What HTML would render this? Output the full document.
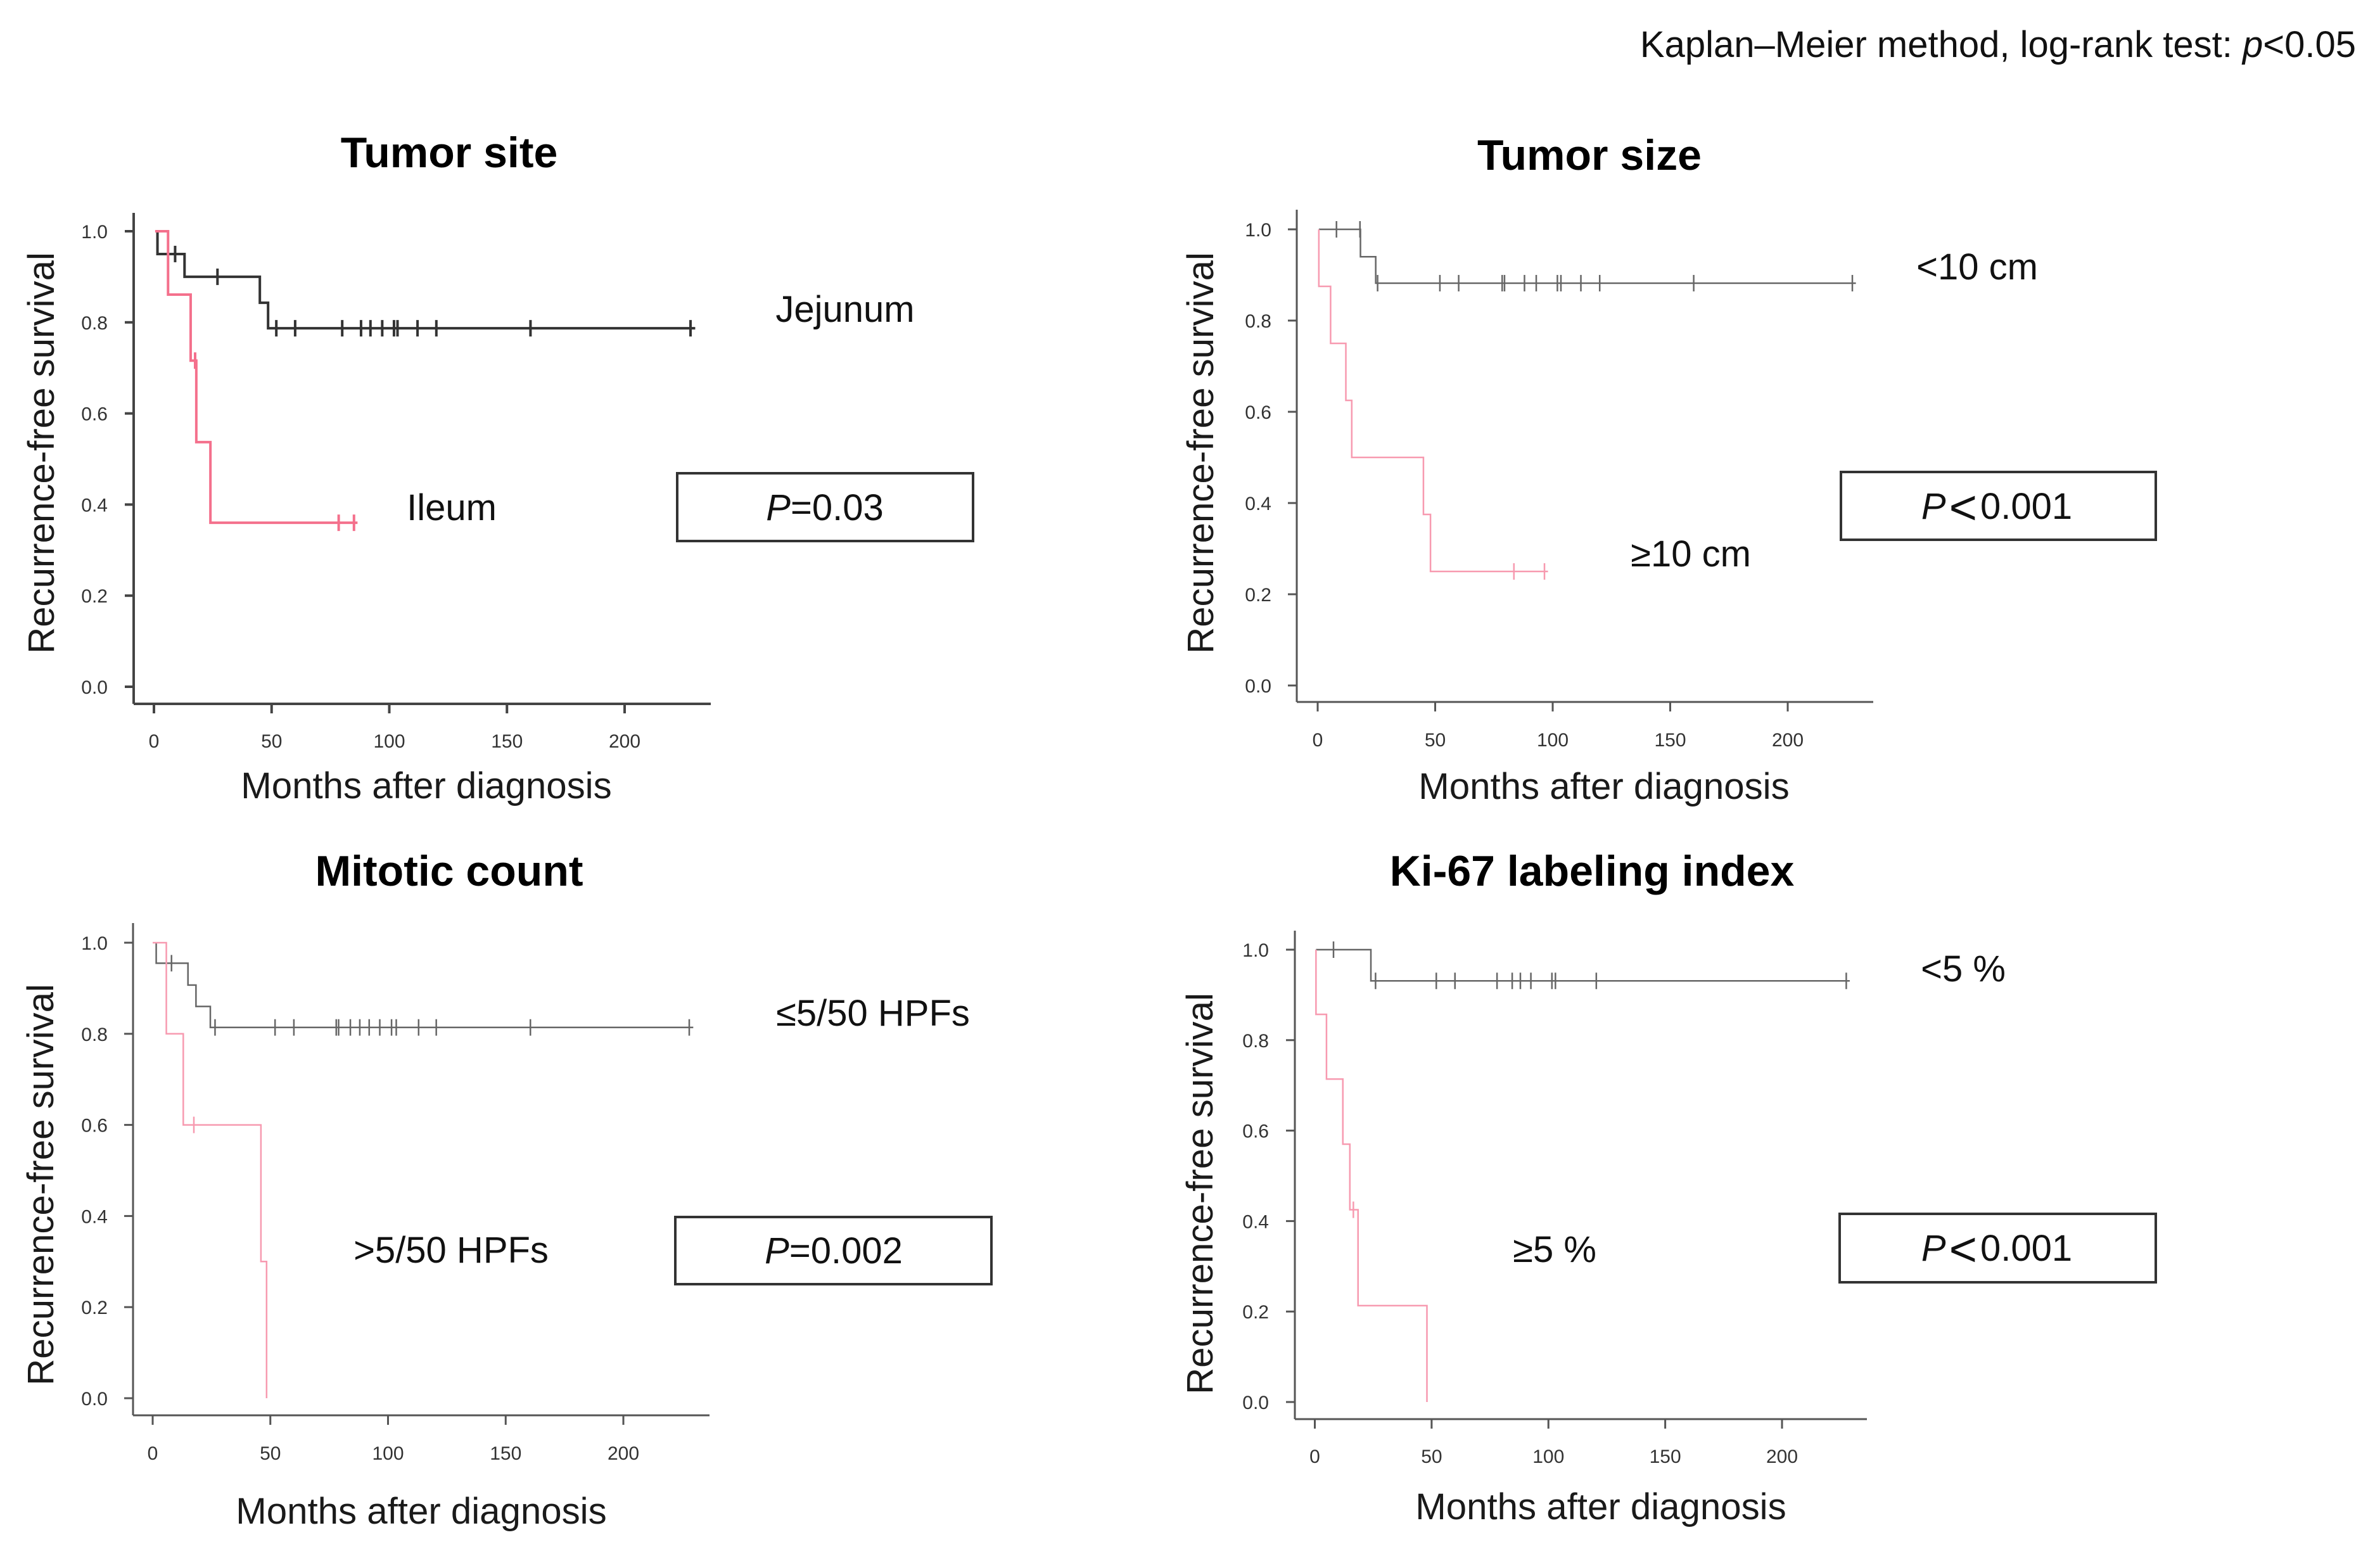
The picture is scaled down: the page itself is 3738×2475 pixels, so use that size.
<!DOCTYPE html>
<html lang="en">
<head>
<meta charset="utf-8">
<title>Recurrence-free survival Kaplan-Meier curves</title>
<style>
html,body{margin:0;padding:0;background:#fff;}
svg{display:block;}
text{font-family:"Liberation Sans",Arial,sans-serif;fill:#111;}
.title{font-size:68px;font-weight:bold;text-anchor:middle;fill:#000;}
.axis-title{font-size:58.2px;text-anchor:middle;fill:#1a1a1a;}
.label{font-size:58px;text-anchor:middle;fill:#111;}
.tick{font-size:30px;fill:#333;}
.pbox{fill:#fff;stroke:#333;stroke-width:4;}
</style>
</head>
<body>
<svg id="figure" xmlns="http://www.w3.org/2000/svg" width="3738" height="2475" viewBox="0 0 3738 2475">
  <rect x="0" y="0" width="3738" height="2475" fill="#fff"/>
  <text x="3719" y="90" font-size="58" text-anchor="end" fill="#111">Kaplan–Meier method, log-rank test: <tspan font-style="italic">p</tspan>&lt;0.05</text>

  <g id="panel-site">
    <text class="title" x="709" y="264">Tumor site</text>
    <text class="axis-title" transform="translate(85,715) rotate(-90)">Recurrence-free survival</text>
    <text class="axis-title" x="673" y="1260">Months after diagnosis</text>
    <text class="label" x="1334" y="508">Jejunum</text>
    <text class="label" x="713" y="821">Ileum</text>
    <rect class="pbox" x="1069" y="747" width="467" height="107"/>
    <text class="label" x="1302" y="821"><tspan font-style="italic">P</tspan>=0.03</text>
  </g>

  <g id="panel-size">
    <text class="title" x="2509" y="268">Tumor size</text>
    <text class="axis-title" transform="translate(1915,715) rotate(-90)">Recurrence-free survival</text>
    <text class="axis-title" x="2532" y="1261">Months after diagnosis</text>
    <text class="label" x="3121" y="441">&lt;10 cm</text>
    <text class="label" x="2669" y="894">≥10 cm</text>
    <rect class="pbox" x="2906" y="745" width="497" height="107"/>
    <text class="label" x="3152" y="819"><tspan font-style="italic">P</tspan><tspan font-size="76" dx="5" dy="8">&lt;</tspan><tspan dx="5" dy="-8">0.001</tspan></text>
  </g>

  <g id="panel-mitotic">
    <text class="title" x="709" y="1398">Mitotic count</text>
    <text class="axis-title" transform="translate(84,1870) rotate(-90)">Recurrence-free survival</text>
    <text class="axis-title" x="665" y="2405">Months after diagnosis</text>
    <text class="label" x="1378" y="1619">≤5/50 HPFs</text>
    <text class="label" x="712" y="1993">&gt;5/50 HPFs</text>
    <rect class="pbox" x="1066" y="1921" width="499" height="106"/>
    <text class="label" x="1316" y="1994"><tspan font-style="italic">P</tspan>=0.002</text>
  </g>

  <g id="panel-ki67">
    <text class="title" x="2513" y="1398">Ki-67 labeling index</text>
    <text class="axis-title" transform="translate(1914,1884) rotate(-90)">Recurrence-free survival</text>
    <text class="axis-title" x="2527" y="2398">Months after diagnosis</text>
    <text class="label" x="3099" y="1549">&lt;5 %</text>
    <text class="label" x="2454" y="1992">≥5 %</text>
    <rect class="pbox" x="2904" y="1916" width="499" height="108"/>
    <text class="label" x="3152" y="1990"><tspan font-style="italic">P</tspan><tspan font-size="76" dx="5" dy="8">&lt;</tspan><tspan dx="5" dy="-8">0.001</tspan></text>
  </g>
</svg>

<script>
// Shared tick labels
const xTickValues = [0, 50, 100, 150, 200];
const yTickValues = [0, 0.2, 0.4, 0.6, 0.8, 1.0];

// Tumor site
const jejunumStart = 1.5;
const jejunumEnd = 230;
const jejunumDropTimes = [1.5, 13, 45, 48.5];
const jejunumSurvival = [1, 0.95, 0.90, 0.843, 0.787];
const jejunumCensored = [9, 27, 52, 60, 80, 88, 92, 97, 102, 103.5, 112, 120, 160, 228];
const ileumStart = 0.5;
const ileumEnd = 86.5;
const ileumDropTimes = [6, 15.6, 18, 24];
const ileumSurvival = [1, 0.861, 0.716, 0.537, 0.36];
const ileumCensored = [17.5, 78.5, 85];

// Tumor size
const smallTumorStart = 0.5;
const smallTumorEnd = 229;
const smallTumorDropTimes = [18.2, 24.7];
const smallTumorSurvival = [1, 0.94, 0.882];
const smallTumorCensored = [8, 18, 25.5, 52, 60, 78.5, 79.5, 88, 93, 102, 103.5, 112, 120, 160, 227.5];
const largeTumorStart = 0.5;
const largeTumorEnd = 98;
const largeTumorDropTimes = [0.5, 5.5, 12, 14.5, 45, 48];
const largeTumorSurvival = [1, 0.875, 0.75, 0.625, 0.5, 0.375, 0.25];
const largeTumorCensored = [83.5, 96.5];

// Mitotic count
const lowMitoticStart = 1.5;
const lowMitoticEnd = 229.7;
const lowMitoticDropTimes = [1.5, 15, 18.4, 24.5];
const lowMitoticSurvival = [1, 0.955, 0.907, 0.86, 0.814];
const lowMitoticCensored = [8, 26.5, 52, 60, 78, 79, 84, 88, 92, 96.5, 101.5, 103.5, 113, 120.5, 160.5, 228];
const highMitoticStart = 0;
const highMitoticEnd = 48.4;
const highMitoticDropTimes = [5.8, 13, 46, 48.4];
const highMitoticSurvival = [1, 0.8, 0.6, 0.3, 0];
const highMitoticCensored = [17.5];

// Ki-67
const lowKiStart = 0.5;
const lowKiEnd = 229;
const lowKiDropTimes = [24];
const lowKiSurvival = [1, 0.931];
const lowKiCensored = [8, 26, 52, 60, 78, 84.5, 88, 92.5, 101.5, 103, 120.5, 227.5];
const highKiStart = 0.5;
const highKiEnd = 48;
const highKiDropTimes = [0.5, 5, 12, 15, 18.5, 48];
const highKiSurvival = [1, 0.857, 0.714, 0.57, 0.425, 0.213, 0];
const highKiCensored = [16.5];

const SVG_NS = 'http://www.w3.org/2000/svg';

function line(parent, name, x1, y1, x2, y2, stroke, width) {
  const el = document.createElementNS(SVG_NS, 'line');
  
  
  el.setAttribute('x1', x1);
  el.setAttribute('y1', y1);
  el.setAttribute('x2', x2);
  el.setAttribute('y2', y2);
  el.setAttribute('stroke', stroke);
  el.setAttribute('stroke-width', width);
  parent.appendChild(el);
  return el;
}

function label(parent, name, x, y, anchor, content) {
  const el = document.createElementNS(SVG_NS, 'text');
  
  
  el.setAttribute('class', 'tick');
  el.setAttribute('x', x);
  el.setAttribute('y', y);
  el.setAttribute('text-anchor', anchor);
  el.textContent = content;
  parent.appendChild(el);
  return el;
}

function drawAxes(parent, prefix, frame, xScale, yScale) {
  line(parent, prefix + '-y-axis', frame.left, frame.top, frame.left, frame.bottom, frame.axisColor, frame.axisWidth);
  line(parent, prefix + '-x-axis', frame.left, frame.bottom, frame.right, frame.bottom, frame.axisColor, frame.axisWidth);
  xTickValues.forEach(function (v) {
    line(parent, prefix + '-x-tick-' + v, xScale(v), frame.bottom, xScale(v), frame.bottom + 15, frame.axisColor, frame.axisWidth);
    label(parent, prefix + '-x-tick-label-' + v, xScale(v), frame.xLabelY, 'middle', String(v));
  });
  yTickValues.forEach(function (v) {
    line(parent, prefix + '-y-tick-' + v.toFixed(1), frame.left - 14, yScale(v), frame.left, yScale(v), frame.axisColor, frame.axisWidth);
    label(parent, prefix + '-y-tick-label-' + v.toFixed(1), frame.yLabelX, yScale(v) + 11, 'end', v.toFixed(1));
  });
}

function survivalAt(t, dropTimes, survival) {
  let s = survival[0];
  dropTimes.forEach(function (d, i) {
    if (t >= d) s = survival[i + 1];
  });
  return s;
}

function drawCurve(parent, name, xScale, yScale, start, end, dropTimes, survival, censored, color, width) {
  const path = document.createElementNS(SVG_NS, 'path');
  let d = 'M' + xScale(start) + ' ' + yScale(survival[0]);
  dropTimes.forEach(function (t, i) {
    d += ' H' + xScale(t) + ' V' + yScale(survival[i + 1]);
  });
  d += ' H' + xScale(end);
  
  
  path.setAttribute('d', d);
  path.setAttribute('fill', 'none');
  path.setAttribute('stroke', color);
  path.setAttribute('stroke-width', width);
  parent.appendChild(path);
  censored.forEach(function (t) {
    const y = yScale(survivalAt(t, dropTimes, survival));
    line(parent, name + '-censor-mark', xScale(t), y - 13, xScale(t), y + 13, color, width);
  });
}

function makeScale(v0, p0, v1, p1) {
  return function (v) { return p0 + (v - v0) * (p1 - p0) / (v1 - v0); };
}

function drawPanel(id, prefix, frame, curves) {
  const g = document.getElementById(id);
  const xScale = makeScale(0, frame.x0, 200, frame.x200);
  const yScale = makeScale(0, frame.y0, 1, frame.y1);
  drawAxes(g, prefix, frame, xScale, yScale);
  curves.forEach(function (c) {
    drawCurve(g, c.name, xScale, yScale, c.start, c.end, c.drops, c.surv, c.cens, c.color, c.width);
  });
}

drawPanel('panel-site', 'tumor-site',
  {left: 211, right: 1122, top: 336, bottom: 1111, x0: 243, x200: 986, y0: 1084, y1: 365, xLabelY: 1180, yLabelX: 170, axisColor: '#444', axisWidth: 4},
  [
    {name: 'jejunum', start: jejunumStart, end: jejunumEnd, drops: jejunumDropTimes, surv: jejunumSurvival, cens: jejunumCensored, color: '#333', width: 4},
    {name: 'ileum', start: ileumStart, end: ileumEnd, drops: ileumDropTimes, surv: ileumSurvival, cens: ileumCensored, color: '#f4708c', width: 4}
  ]);

drawPanel('panel-size', 'tumor-size',
  {left: 2047, right: 2957, top: 331, bottom: 1108, x0: 2080, x200: 2822, y0: 1082, y1: 362, xLabelY: 1178, yLabelX: 2007, axisColor: '#555', axisWidth: 3},
  [
    {name: 'under-10cm', start: smallTumorStart, end: smallTumorEnd, drops: smallTumorDropTimes, surv: smallTumorSurvival, cens: smallTumorCensored, color: '#666', width: 2.5},
    {name: 'over-10cm', start: largeTumorStart, end: largeTumorEnd, drops: largeTumorDropTimes, surv: largeTumorSurvival, cens: largeTumorCensored, color: '#f79ab0', width: 2.5}
  ]);

drawPanel('panel-mitotic', 'mitotic-count',
  {left: 210, right: 1120, top: 1457, bottom: 2234, x0: 241, x200: 984, y0: 2207, y1: 1488, xLabelY: 2304, yLabelX: 170, axisColor: '#555', axisWidth: 3},
  [
    {name: 'low-mitotic', start: lowMitoticStart, end: lowMitoticEnd, drops: lowMitoticDropTimes, surv: lowMitoticSurvival, cens: lowMitoticCensored, color: '#666', width: 2.5},
    {name: 'high-mitotic', start: highMitoticStart, end: highMitoticEnd, drops: highMitoticDropTimes, surv: highMitoticSurvival, cens: highMitoticCensored, color: '#f79ab0', width: 2.5}
  ]);

drawPanel('panel-ki67', 'ki67',
  {left: 2044, right: 2947, top: 1469, bottom: 2240, x0: 2075.5, x200: 2813, y0: 2213, y1: 1499, xLabelY: 2309, yLabelX: 2003, axisColor: '#555', axisWidth: 3},
  [
    {name: 'under-5pct', start: lowKiStart, end: lowKiEnd, drops: lowKiDropTimes, surv: lowKiSurvival, cens: lowKiCensored, color: '#666', width: 2.5},
    {name: 'over-5pct', start: highKiStart, end: highKiEnd, drops: highKiDropTimes, surv: highKiSurvival, cens: highKiCensored, color: '#f79ab0', width: 2.5}
  ]);
</script>
</body>
</html>
